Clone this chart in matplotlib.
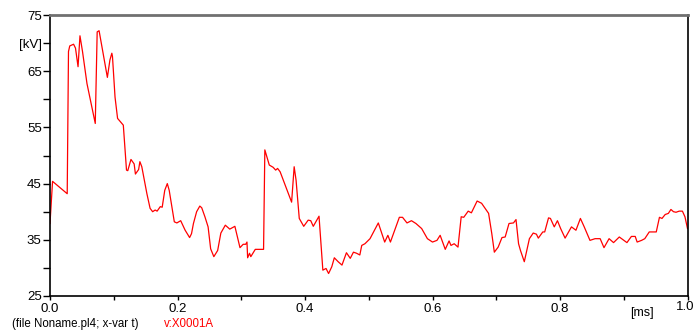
import matplotlib
matplotlib.use("Agg")
import matplotlib.pyplot as plt

plt.rcParams["font.family"] = ["Liberation Sans", "DejaVu Sans"]

# time [ms] and voltage [kV]
t_ms = [
    0.000, 0.004, 0.027, 0.029, 0.031, 0.037, 0.040, 0.044, 0.047, 0.051,
    0.058, 0.071, 0.074, 0.077, 0.090, 0.094, 0.097, 0.098, 0.102, 0.106,
    0.115, 0.120, 0.122, 0.127, 0.132, 0.134, 0.139, 0.141, 0.144, 0.152,
    0.157, 0.161, 0.165, 0.168, 0.173, 0.176, 0.180, 0.184, 0.187, 0.195,
    0.199, 0.205, 0.212, 0.219, 0.222, 0.225, 0.230, 0.235, 0.238, 0.243,
    0.248, 0.252, 0.257, 0.263, 0.268, 0.275, 0.282, 0.290, 0.298, 0.303,
    0.307, 0.309, 0.310, 0.313, 0.315, 0.322, 0.335, 0.337, 0.344, 0.350,
    0.354, 0.357, 0.361, 0.369, 0.374, 0.379, 0.383, 0.386, 0.391, 0.398,
    0.405, 0.409, 0.413, 0.422, 0.428, 0.433, 0.437, 0.442, 0.446, 0.452,
    0.458, 0.465, 0.471, 0.476, 0.481, 0.486, 0.489, 0.494, 0.502, 0.515,
    0.525, 0.530, 0.534, 0.548, 0.553, 0.560, 0.567, 0.574, 0.583, 0.592,
    0.600, 0.607, 0.612, 0.620, 0.626, 0.629, 0.634, 0.640, 0.645, 0.649,
    0.656, 0.661, 0.670, 0.677, 0.688, 0.693, 0.697, 0.703, 0.709, 0.714,
    0.720, 0.727, 0.731, 0.735, 0.738, 0.744, 0.752, 0.758, 0.763, 0.766,
    0.773, 0.776, 0.782, 0.785, 0.791, 0.796, 0.801, 0.808, 0.818, 0.825,
    0.832, 0.838, 0.847, 0.855, 0.863, 0.869, 0.877, 0.884, 0.893, 0.905,
    0.912, 0.918, 0.921, 0.928, 0.933, 0.940, 0.951, 0.956, 0.960, 0.965,
    0.970, 0.974, 0.978, 0.982, 0.987, 0.992, 0.996, 1.000,
]
v_kv = [
    37.9, 45.4, 43.2, 68.5, 69.5, 69.8, 69.1, 65.8, 71.3, 68.5,
    62.8, 55.7, 72.0, 72.2, 63.9, 67.0, 68.2, 67.6, 60.4, 56.6,
    55.4, 47.4, 47.3, 49.3, 48.5, 46.7, 47.5, 48.9, 48.0, 43.2,
    40.6, 40.0, 40.3, 40.1, 40.9, 40.8, 43.8, 45.0, 43.8, 38.2,
    38.0, 38.4, 36.7, 35.4, 36.1, 37.9, 40.0, 41.0, 40.7, 39.1,
    37.3, 33.4, 32.0, 33.1, 36.2, 37.6, 36.9, 37.4, 33.6, 34.2,
    34.2, 34.6, 31.8, 32.6, 32.0, 33.3, 33.3, 51.0, 48.3, 47.9,
    47.4, 47.7, 47.1, 44.7, 43.2, 41.7, 48.0, 45.6, 38.8, 37.4,
    38.5, 38.4, 37.4, 39.2, 29.6, 29.9, 29.0, 30.2, 31.8, 31.1,
    30.5, 32.7, 31.7, 32.8, 32.6, 32.3, 34.0, 34.3, 35.2, 38.0,
    34.6, 35.8, 34.6, 39.0, 39.0, 38.0, 38.4, 37.9, 37.0, 35.2,
    34.6, 34.9, 35.8, 33.3, 34.8, 34.0, 34.3, 33.7, 39.1, 39.0,
    40.1, 39.8, 41.9, 41.5, 39.7, 36.1, 32.8, 33.7, 35.4, 35.5,
    37.9, 38.0, 38.6, 34.3, 33.1, 31.1, 35.2, 36.2, 36.0, 35.3,
    36.4, 36.4, 38.9, 38.8, 37.3, 38.4, 37.0, 35.3, 37.3, 36.7,
    38.8, 37.3, 34.9, 35.2, 35.2, 33.6, 35.2, 34.5, 35.5, 34.5,
    35.6, 35.6, 34.6, 34.9, 35.2, 36.4, 36.4, 39.0, 38.8, 39.5,
    39.7, 40.4, 40.0, 39.9, 40.1, 40.1, 39.1, 37.0,
]

x_ticks = [0.0, 0.1, 0.2, 0.3, 0.4, 0.5, 0.6, 0.7, 0.8, 0.9, 1.0]
x_labels = ["0.0", "", "0.2", "", "0.4", "", "0.6", "", "0.8", "", ""]
y_ticks = [25, 30, 35, 40, 45, 50, 55, 60, 65, 70, 75]
y_labels = ["25", "", "35", "", "45", "", "55", "", "65", "[kV]", "75"]

fig = plt.figure(figsize=(6.95, 3.30), dpi=100)
ax = fig.add_axes([50 / 695, 1 - 296 / 330, 637.5 / 695, 281 / 330])

ax.plot(t_ms, v_kv, color="#ff0000", linewidth=0.9)

ax.set_xlim(0.0, 1.0)
ax.set_ylim(25, 75)
ax.set_xticks(x_ticks)
ax.set_xticklabels(x_labels)
ax.set_yticks(y_ticks)
ax.set_yticklabels(y_labels)

ax.tick_params(axis="x", direction="out", length=3, width=1, pad=2, labelsize=9.5, colors="black")
ax.tick_params(axis="y", direction="out", length=5, width=1, pad=1, labelsize=9.5, colors="black")

for side in ["left", "bottom", "right"]:
    ax.spines[side].set_color("black")
    ax.spines[side].set_linewidth(1.2)
ax.spines["top"].set_color("#707070")
ax.spines["top"].set_linewidth(2.0)

# last x label sits at the right edge of the figure
fig.text(694 / 695, 1 - 301 / 330, "1.0", ha="right", va="top", fontsize=9.5)
fig.text(642 / 695, 1 - 313 / 330, "[ms]", ha="center", va="center", fontsize=9)
fig.text(12 / 695, 1 - 324 / 330, "(file Noname.pl4; x-var t)", ha="left", va="center", fontsize=8.3)
fig.text(164 / 695, 1 - 324 / 330, "v:X0001A", ha="left", va="center", fontsize=8.3, color="#ff0000")

fig.savefig("out.png", dpi=100)
